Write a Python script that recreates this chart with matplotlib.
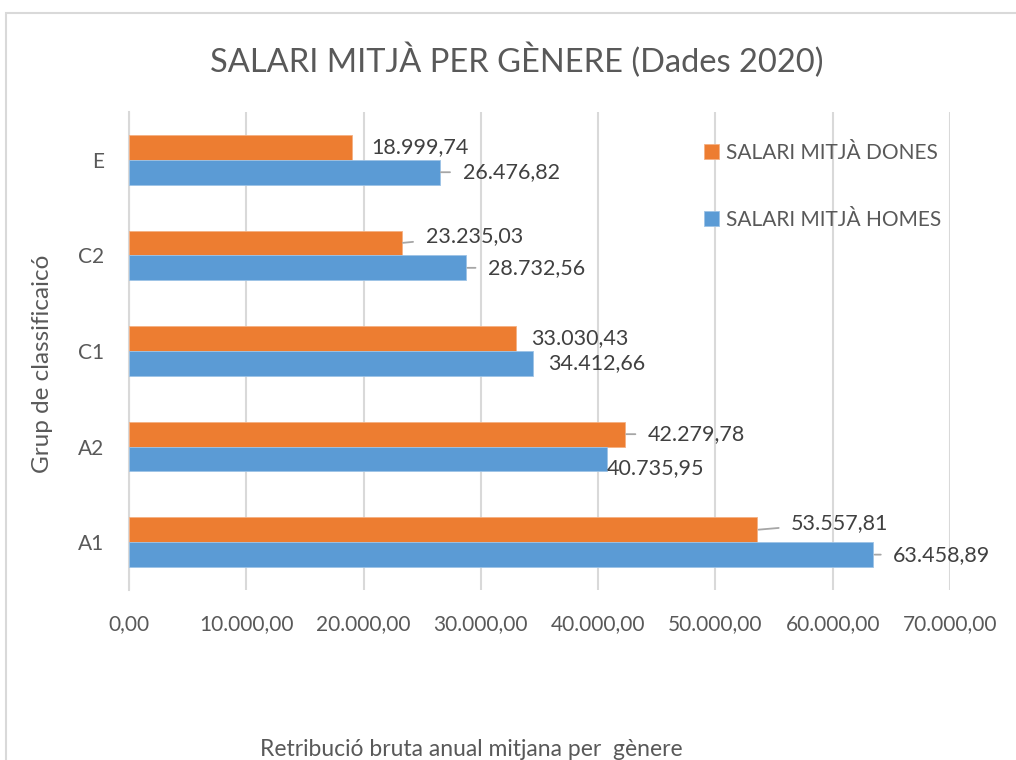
import matplotlib.pyplot as plt
import matplotlib.patches as mpatches
import numpy as np

# dades (2020)
grups = ["A1", "A2", "C1", "C2", "E"]
salari_dones = [53557.81, 42279.78, 33030.43, 23235.03, 18999.74]
salari_homes = [63458.89, 40735.95, 34412.66, 28732.56, 26476.82]
etiquetes_dones = ["53.557,81", "42.279,78", "33.030,43", "23.235,03", "18.999,74"]
etiquetes_homes = ["63.458,89", "40.735,95", "34.412,66", "28.732,56", "26.476,82"]
xticks = [0, 10000, 20000, 30000, 40000, 50000, 60000, 70000]
xtick_labels = ["0,00", "10.000,00", "20.000,00", "30.000,00", "40.000,00",
                "50.000,00", "60.000,00", "70.000,00"]

# label offsets in pixels (dx, dy) and whether a leader line is drawn
off_dones = [(34, 7, True), (23, 0, True), (15, 0, False), (24, 7, True), (19, 0, False)]
off_homes = [(20, 0, True), (0, -9, False), (15, 0, False), (22, 0, True), (23, 0, True)]

orange = "#ED7D31"
blue = "#5B9BD5"
txt = "#595959"
grid = "#D9D9D9"

plt.rcParams['font.family'] = ['Lato', 'DejaVu Sans']

fig = plt.figure(figsize=(10.16, 7.6), dpi=100)
ax = fig.add_axes([129 / 1016, 1 - 590 / 760, 821 / 1016, 478 / 760])

y = np.arange(len(grups))
h = 0.26
ax.barh(y + h / 2, salari_dones, height=h, color=orange, edgecolor="#F4B183",
        linewidth=0.6, label="SALARI MITJÀ DONES", zorder=3)
ax.barh(y - h / 2, salari_homes, height=h, color=blue, edgecolor="#9DC3E6",
        linewidth=0.6, label="SALARI MITJÀ HOMES", zorder=3)

def label(x, yy, s, off):
    dx, dy, line = off
    kw = {}
    if line:
        kw["arrowprops"] = dict(arrowstyle="-", color="#A6A6A6", lw=1.3,
                                shrinkA=7, shrinkB=1)
    ax.annotate(s, xy=(x, yy), xytext=(dx, dy), textcoords="offset pixels",
                ha="left", va="center", fontsize=15.5, color="#404040", **kw)

for i in range(len(grups)):
    label(salari_dones[i], y[i] + h / 2, etiquetes_dones[i], off_dones[i])
    label(salari_homes[i], y[i] - h / 2, etiquetes_homes[i], off_homes[i])

ax.set_xlim(0, 70000)
ax.set_ylim(-0.5, 4.5)
ax.set_xticks(xticks)
ax.set_xticklabels(xtick_labels)
ax.set_yticks(y)
ax.set_yticklabels(grups)
ax.tick_params(axis="both", length=0, labelsize=15, colors=txt)
ax.tick_params(axis="x", pad=17)
ax.tick_params(axis="y", pad=18)
ax.grid(axis="x", color=grid, lw=1.5, zorder=0)
for s in ["top", "right", "bottom"]:
    ax.spines[s].set_visible(False)
ax.spines["left"].set_color(grid)
ax.spines["left"].set_linewidth(1.5)

ax.legend(loc="upper left", bbox_to_anchor=(0.678, 0.975), frameon=False,
          fontsize=15, labelcolor=txt, handlelength=0.7, handleheight=0.7,
          handletextpad=0.35, labelspacing=2.25)

fig.text(517 / 1016, 1 - 60 / 760, "SALARI MITJÀ PER GÈNERE (Dades 2020)",
         ha="center", va="center", fontsize=23.5, color=txt)
fig.text(43 / 1016, 1 - 364 / 760, "Grup de classificaicó", rotation=90,
         ha="center", va="center", fontsize=17.5, color=txt)
fig.text(471 / 1016, 1 - 750 / 760, "Retribució bruta anual mitjana per  gènere",
         ha="center", va="center", fontsize=16.5, color=txt)

# chart border (only top and left visible in the crop)
fig.add_artist(mpatches.Rectangle((6 / 1016, -0.1), 1.2, (747 / 760) + 0.1,
                                  transform=fig.transFigure, fill=False,
                                  edgecolor=grid, lw=1.5))

fig.savefig("out.png", dpi=100)
